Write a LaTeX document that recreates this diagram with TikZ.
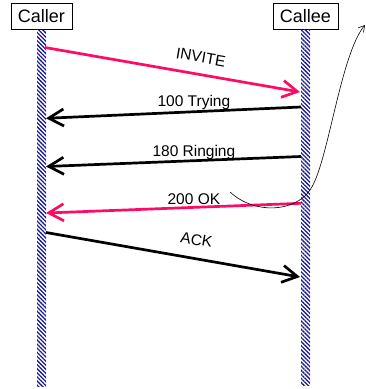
\documentclass[tikz,border=0pt]{standalone}
\usepackage{fontspec}
\setmainfont{Liberation Sans}
\usepackage{tikz}
\usetikzlibrary{arrows.meta, positioning, patterns.meta}
\definecolor{sipred}{HTML}{FF0A64}
\definecolor{lifeblue}{HTML}{1C1C8E}

\begin{document}
\begin{tikzpicture}[x=1pt, y=-1pt,
    party/.style={rectangle, draw=black, fill=white, font=\fontsize{18}{20}\selectfont, minimum height=26pt, inner xsep=7pt},
    lifeline/.style={rectangle, minimum width=9pt, minimum height=356pt, inner sep=0pt, pattern={Lines[angle=-45, distance=2.9pt, line width=1.3pt]}, pattern color=lifeblue},
    req/.style={-{Straight Barb[length=15pt, width=17pt]}, line width=2.7pt, color=sipred},
    resp/.style={-{Straight Barb[length=15pt, width=17pt]}, line width=2.7pt, color=black},
    msg/.style={font=\fontsize{15.5}{17}\selectfont, inner sep=2pt, text=black},
    note/.style={-{Straight Barb[length=6pt, width=7pt]}, line width=0.6pt, black},
]
    \useasboundingbox (0,0) rectangle (366,389);

    \node[party] (caller) at (41.5,16.3) {Caller};
    \node[party] (callee) at (305.5,16) {Callee};
    \node[lifeline, below=0pt of caller] (callerline) {};
    \node[lifeline, below=0pt of callee] (calleeline) {};

    % message end points
    \coordinate (invite-a) at (45,47.5);
    \coordinate (invite-b) at (300,92);
    \coordinate (trying-a) at (301,107);
    \coordinate (trying-b) at (46,118.3);
    \coordinate (ringing-a) at (301,156.5);
    \coordinate (ringing-b) at (46,166.5);
    \coordinate (ok-a) at (301,203.3);
    \coordinate (ok-b) at (46,213);
    \coordinate (ack-a) at (46,232.5);
    \coordinate (ack-b) at (300,277);

    \draw[req] (invite-a) -- node[msg, pos=0.6, sloped, above=8.5pt] (invite) {INVITE} (invite-b);
    \draw[resp] (trying-a) -- node[msg, pos=0.42, anchor=base, yshift=5pt] (trying) {100 Trying} (trying-b);
    \draw[resp] (ringing-a) -- node[msg, pos=0.42, anchor=base, yshift=4pt] (ringing) {180 Ringing} (ringing-b);
    \draw[req] (ok-a) -- node[msg, pos=0.42, anchor=base, yshift=3pt] (ok) {200 OK} (ok-b);
    \draw[resp] (ack-a) -- node[msg, pos=0.58, sloped, above=10pt] (ack) {ACK} (ack-b);

    % free hand note
    \coordinate (note-a) at (230,192);
    \coordinate (note-m) at (310,190);
    \coordinate (note-b) at (365,25);
    \draw[note] (note-a) .. controls (255,215) and (295,212) .. (note-m)
        .. controls (328,165) and (340,55) .. (note-b);
\end{tikzpicture}
\end{document}
